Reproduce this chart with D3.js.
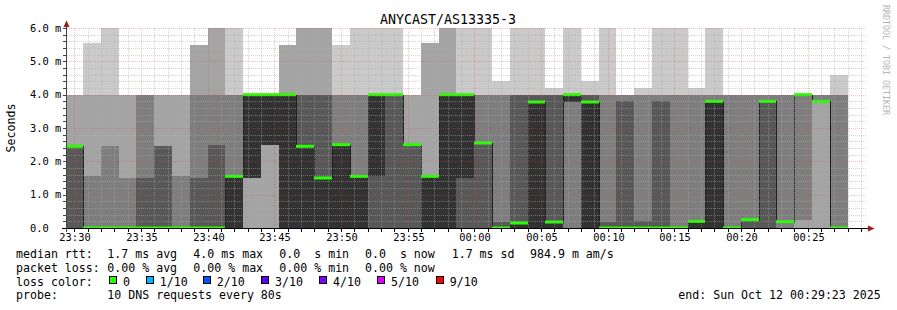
<!doctype html>
<html lang="en">
<head>
<meta charset="utf-8">
<title>ANYCAST/AS13335-3</title>
<style>
  body { margin: 0; background: #fff; }
  text { font-family: "DejaVu Sans Mono", monospace; fill: #000; }
</style>
</head>
<body>
<script src="https://cdn.jsdelivr.net/npm/d3@7"></script>
<script>

// 10 DNS requests every 80s, sorted per bin (ms)
var binStep = 80;
var pings = [
  [0,0,0,0,2.45,2.45,2.45,2.45,4,4],
  [0,0,0,0,0,0,0,1.55,4,5.55],
  [0,0,0,0,0,0,0,2.45,4,6],
  [0,0,0,0,0,0,0,1.5,4,4],
  [0,0,0,0,0,0,1.5,4,4,4],
  [0,0,0,0,0,0,2.45,2.45,4,4],
  [0,0,0,0,0,0,0,1.55,4,4],
  [0,0,0,0,0,0,1.5,4,5.5,5.5],
  [0,0,0,0,0,0,2.5,4,6,6],
  [0,0,0,0,0,1.55,1.55,4,4,6],
  [0,0,1.5,1.5,1.5,4,4,4,4,4],
  [0,0,2.5,2.5,2.5,4,4,4,4,4],
  [0,0,0,0,0,4,4,4,5.5,5.5],
  [0,0,0,0,0,2.45,4,4,6,6],
  [0,0,0,0,0,1.5,4,4,6,6],
  [0,0,0,0,0,2.5,2.5,4,4,5.5],
  [0,0,0,0,0,1.55,1.55,4,4,6],
  [0,0,0,0,1.55,4,4,4,4,6],
  [0,0,0,0,4,4,4,4,4,6],
  [0,0,0,0,2.5,2.5,2.5,2.5,4,4],
  [0,0,0,0,0,1.55,1.55,1.55,5.55,5.55],
  [0,0,0,0,0,4,4,4,6,6],
  [0,0,0,0,1.5,4,4,4,4,6],
  [0,0,0,0,2.55,2.55,2.55,4,4,6],
  [0,0,0,0,0,0,0.17,4,4,4.4],
  [0,0,0,0,0,0.15,4,4,4,6],
  [0,0,0,0,0,3.78,4,4,4,6],
  [0,0,0,0,0,0.18,4,4,4,4.2],
  [0,0,0,3.78,3.78,4,4,4,4,6],
  [0,0,0,0,0,3.78,4,4,4,4.4],
  [0,0,0,0,0,0,0.18,4,4,6],
  [0,0,0,0,0,0,3.8,4,4,4],
  [0,0,0,0,0,0,0.2,4,4,4.2],
  [0,0,0,0,0,0,3.8,4,4,6],
  [0,0,0,0,0,0,0,4,4,6],
  [0,0,0,0,0,0.2,0.2,4,4,4.2],
  [0,0,0,0,0,3.8,3.8,4,4,6],
  [0,0,0,0,0,0,0,4,4,4],
  [0,0,0,0,0.25,0.25,0.25,4,4,4],
  [0,0,0,0,3.8,3.8,3.8,4,4,4],
  [0,0,0,0.19,0.19,0.19,0.19,4,4,4],
  [0,0,0.24,4,4,4,4,4,4,4],
  [0,0,3.8,3.8,3.8,3.8,3.8,4,4,4],
  [0,0,0,0,0,0,0,4,4,4.6]
];
var median = [2.45,0,0,0,0,0,0,0,0,1.55,
              4,4,4,2.45,1.5,2.5,1.55,4,4,2.5,
              1.55,4,4,2.55,0,0.15,3.78,0.18,4,3.78,
              0,0,0,0,0,0.2,3.8,0,0.25,3.8,
              0.19,4,3.8,0];
var lossCount = median.map(function(){ return 0; });

var smokeGrays = ["#cacaca", "#a4a4a4", "#7e7e7e", "#585858", "#323232"];
var lossColors = ["#26ff00", "#00b8ff", "#0059ff", "#5e00ff", "#7e00ff", "#dd00ff", "#ff0000"];
var lossLabels = ["0", "1/10", "2/10", "3/10", "4/10", "5/10", "9/10"];
var lossSteps  = [0, 1, 2, 3, 4, 5, 9];
var yTicks = [0, 1, 2, 3, 4, 5, 6];

var start = new Date(2025, 9, 11, 23, 29, 23),
    end   = new Date(2025, 9, 12, 0, 29, 23),
    firstBin = new Date(2025, 9, 11, 23, 29, 20);

var W = 897, H = 310;
var svg = d3.select("body").append("svg")
    .attr("width", W)
    .attr("height", H);

var x = d3.scaleTime().domain([start, end]).range([66, 866]);
var y = d3.scaleLinear().domain([0, 6]).range([228, 28]);

var bins = pings.map(function(p, i){
  var t0 = d3.timeSecond.offset(firstBin, i * binStep);
  return { t0: t0, t1: d3.timeSecond.offset(t0, binStep), p: p, med: median[i], loss: lossCount[i] };
});

function px(t){ return Math.round(x(t)); }
function py(v){ return Math.round(y(v)); }

svg.append("clipPath").attr("id", "plot")
  .append("rect").attr("x", 66).attr("y", 20).attr("width", 800).attr("height", 208);

var plot = svg.append("g").attr("clip-path", "url(#plot)");

// smoke: band k spans ping[k] .. ping[9-k]
smokeGrays.forEach(function(col, k){
  plot.append("g").selectAll("rect")
    .data(bins.filter(function(d){ return d.p[9 - k] > d.p[k]; }))
    .enter().append("rect")
    .attr("x", function(d){ return px(d.t0); })
    .attr("width", function(d){ return px(d.t1) - px(d.t0); })
    .attr("y", function(d){ return py(d.p[9 - k]); })
    .attr("height", function(d){ return py(d.p[k]) - py(d.p[9 - k]); })
    .attr("fill", col)
    .attr("shape-rendering", "crispEdges");
});

// grid
var minorCol = "rgba(170,170,170,0.5)", majorCol = "rgba(240,70,70,0.35)";
var grid = svg.append("g").attr("shape-rendering", "crispEdges");
var minutes = d3.timeMinute.every(1).range(start, end);
minutes.forEach(function(t){
  var major = t.getMinutes() % 5 === 0;
  grid.append("line")
    .attr("x1", px(t) + 0.5).attr("x2", px(t) + 0.5)
    .attr("y1", 28).attr("y2", 228)
    .attr("stroke", major ? majorCol : minorCol)
    .attr("stroke-dasharray", "1,1");
});
d3.range(1, 31).forEach(function(i){
  var v = i * 0.2, major = i % 5 === 0;
  grid.append("line")
    .attr("x1", 67).attr("x2", 867)
    .attr("y1", py(v) + 0.5).attr("y2", py(v) + 0.5)
    .attr("stroke", major ? majorCol : minorCol)
    .attr("stroke-dasharray", "1,1");
});

// median step line and loss-coloured median bars
var stepPts = bins.map(function(d){ return [px(d.t0) + 0.5, py(d.med) + 0.5]; });
var lastBin = bins[bins.length - 1];
stepPts.push([px(lastBin.t1) + 0.5, py(lastBin.med) + 0.5]);
plot.append("path")
  .attr("d", d3.line().curve(d3.curveStepAfter)(stepPts))
  .attr("fill", "none")
  .attr("stroke", "#202020")
  .attr("stroke-width", 1)
  .attr("shape-rendering", "crispEdges");

plot.append("g").selectAll("rect")
  .data(bins)
  .enter().append("rect")
  .attr("x", function(d){ return px(d.t0); })
  .attr("width", function(d){ return px(d.t1) - px(d.t0); })
  .attr("y", function(d){ return y(d.med) - 1.5; })
  .attr("height", 3)
  .attr("fill", function(d){ return lossColors[lossSteps.indexOf(d.loss)]; });

// axes
var ax = svg.append("g").attr("shape-rendering", "crispEdges");
ax.append("line").attr("x1", 62).attr("x2", 869).attr("y1", 228.5).attr("y2", 228.5).attr("stroke", "#000");
ax.append("line").attr("x1", 66.5).attr("x2", 66.5).attr("y1", 232).attr("y2", 24).attr("stroke", "#444");
minutes.forEach(function(t){
  ax.append("line").attr("x1", px(t) + 0.5).attr("x2", px(t) + 0.5)
    .attr("y1", 229).attr("y2", 232).attr("stroke", "#000");
});
d3.range(1, 31).forEach(function(i){
  ax.append("line").attr("x1", 63).attr("x2", 66)
    .attr("y1", py(i * 0.2) + 0.5).attr("y2", py(i * 0.2) + 0.5).attr("stroke", "#444");
});
svg.append("path").attr("d", "M63.5,27L69.5,27L66.5,20.5Z").attr("fill", "#9a1c1c");
svg.append("path").attr("d", "M868,225.5L868,231.5L874.5,228.5Z").attr("fill", "#9a1c1c");

var fmt = d3.timeFormat("%H:%M");
svg.append("g").selectAll("text")
  .data(d3.timeMinute.every(5).range(start, end))
  .enter().append("text")
  .attr("x", function(d){ return px(d) + 1; })
  .attr("y", 241)
  .attr("text-anchor", "middle")
  .style("font-size", "10.4px")
  .text(fmt);

svg.append("g").selectAll("text")
  .data(yTicks)
  .enter().append("text")
  .attr("x", 30)
  .attr("y", function(d){ return y(d) + 3.8; })
  .style("font-size", "10.4px")
  .text(function(d){ return d === 0 ? "0.0" : d.toFixed(1) + " m"; });

svg.append("text")
  .attr("transform", "translate(15,128) rotate(-90)")
  .attr("text-anchor", "middle")
  .style("font-size", "11.6px")
  .text("Seconds");

svg.append("text")
  .attr("x", 448).attr("y", 24)
  .attr("text-anchor", "middle")
  .style("font-size", "13.3px")
  .text("ANYCAST/AS13335-3");

svg.append("text")
  .attr("transform", "translate(883,5) rotate(90)")
  .style("font-size", "8.3px")
  .style("fill", "#b4b4b4")
  .text("RRDTOOL / TOBI OETIKER");

// legend
var legendRows = [258.3, 272.3, 285.7, 299.4];
var legendCols = [16, 107.3, 193.3, 279.3, 365, 451.7, 530];
var rttLegend  = ["median rtt:", "1.7 ms avg", "4.0 ms max", "0.0  s min", "0.0  s now", "1.7 ms sd", "984.9 m am/s"];
var lossLegend = ["packet loss:", "0.00 % avg", "0.00 % max", "0.00 % min", "0.00 % now"];
var boxX = [109, 145.7, 202.7, 261, 319, 377, 435.7];

var leg = svg.append("g").style("font-size", "11.6px");
[rttLegend, lossLegend].forEach(function(row, r){
  row.forEach(function(s, i){
    leg.append("text").attr("x", legendCols[i]).attr("y", legendRows[r])
      .attr("xml:space", "preserve").text(s);
  });
});
leg.append("text").attr("x", 16).attr("y", legendRows[2]).text("loss color:");
lossLabels.forEach(function(s, i){
  leg.append("rect").attr("x", Math.round(boxX[i]) + 0.5).attr("y", 276.5).attr("width", 7).attr("height", 7)
    .attr("fill", lossColors[i]).attr("stroke", "#000").attr("shape-rendering", "crispEdges");
  leg.append("text").attr("x", boxX[i] + 14).attr("y", legendRows[2]).text(s);
});
leg.append("text").attr("x", 16).attr("y", legendRows[3]).text("probe:");
leg.append("text").attr("x", 107.3).attr("y", legendRows[3]).text("10 DNS requests every 80s");
leg.append("text").attr("x", 678.3).attr("y", legendRows[3]).text("end: Sun Oct 12 00:29:23 2025");

</script>
</body>
</html>
